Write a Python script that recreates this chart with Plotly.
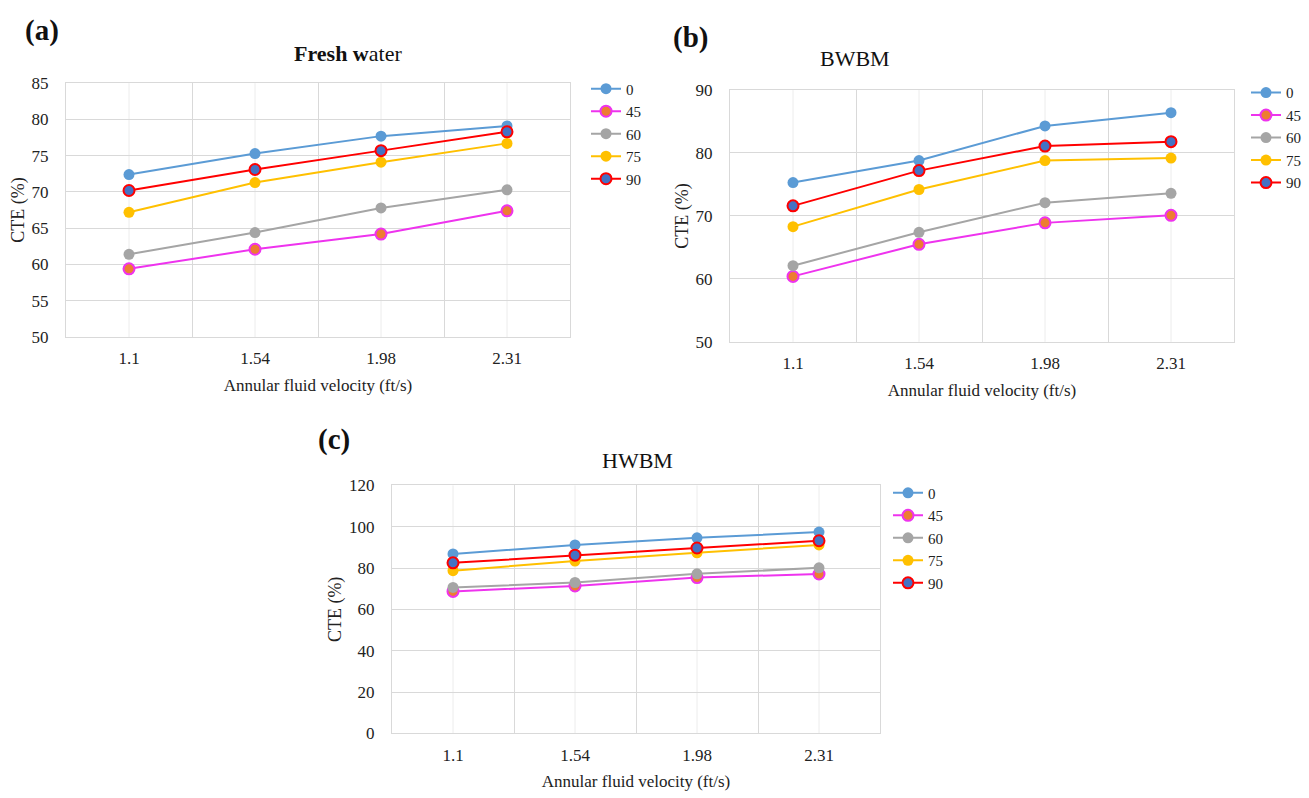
import plotly.graph_objects as go

categories = ["1.1", "1.54", "1.98", "2.31"]
series_names = ["0", "45", "60", "75", "90"]

fresh_water = {
    "0": [72.4, 75.3, 77.7, 79.1],
    "45": [59.4, 62.1, 64.2, 67.4],
    "60": [61.4, 64.4, 67.8, 70.3],
    "75": [67.2, 71.3, 74.1, 76.7],
    "90": [70.2, 73.1, 75.7, 78.3],
}
bwbm = {
    "0": [75.3, 78.8, 84.3, 86.4],
    "45": [60.4, 65.5, 68.9, 70.1],
    "60": [62.1, 67.4, 72.1, 73.6],
    "75": [68.3, 74.2, 78.8, 79.2],
    "90": [71.6, 77.2, 81.1, 81.8],
}
hwbm = {
    "0": [86.8, 91.2, 94.6, 97.4],
    "45": [68.7, 71.3, 75.4, 77.1],
    "60": [70.6, 73.0, 77.2, 80.1],
    "75": [78.7, 83.4, 87.4, 91.2],
    "90": [82.5, 86.2, 89.7, 93.2],
}

line_colors = {"0": "#5B9BD5", "45": "#EE33EE", "60": "#A5A5A5", "75": "#FFC000", "90": "#FF0000"}
fill_colors = {"0": "#5B9BD5", "45": "#ED7D31", "60": "#A5A5A5", "75": "#FFC000", "90": "#4472C4"}
outline = {"0": 0, "45": 2, "60": 0, "75": 0, "90": 2}

FONT = "Liberation Serif"
W, H = 1309, 798

panels = [
    (fresh_water, "", "legend", (66, 570), (76, 336), (50, 85), 5, "<b>Fresh w</b>ater", "(a)",
     (348, 46), (42, 22), (586, 65)),
    (bwbm, "2", "legend2", (730, 1234), (83, 341), (50, 90), 10, "BWBM", "(b)",
     (855, 51), (690, 29), (1246, 69)),
    (hwbm, "3", "legend3", (392, 880), (488, 742), (0, 120), 20, "HWBM", "(c)",
     (637, 462), (334, 441), (888, 479)),
]

fig = go.Figure()
layout = dict(width=W, height=H, margin=dict(l=0, r=0, t=0, b=0),
              paper_bgcolor="white", plot_bgcolor="white",
              font=dict(family=FONT, size=16, color="#222222"))
annotations = []
shapes = []

for (data, sfx, lg, xpx, ypx, yr, dt, title, label, tpos, lpos, legpos) in panels:
    xa = "x" + sfx
    ya = "y" + sfx
    for name in series_names:
        fig.add_trace(go.Scatter(
            x=categories, y=data[name], name=name, mode="lines+markers",
            xaxis=xa, yaxis=ya, legend=lg,
            line=dict(color=line_colors[name], width=2),
            marker=dict(size=11, color=fill_colors[name],
                        line=dict(color=line_colors[name], width=outline[name])),
        ))
    xd = [xpx[0] / W, xpx[1] / W]
    yd = [1 - ypx[1] / H, 1 - ypx[0] / H]
    layout["xaxis" + sfx] = dict(
        domain=xd, anchor=ya, type="category", range=[-0.5, len(categories) - 0.5],
        tickson="boundaries", showgrid=True, gridcolor="#d9d9d9", gridwidth=1,
        showline=True, linecolor="#d9d9d9", mirror=True, ticks="",
        tickfont=dict(size=17, family=FONT), ticklabelstandoff=6,
        title=dict(text="Annular fluid velocity (ft/s)", font=dict(size=17, family=FONT), standoff=11),
        fixedrange=True,
    )
    layout["yaxis" + sfx] = dict(
        domain=yd, anchor=xa, range=list(yr), dtick=dt, tick0=0,
        showgrid=True, gridcolor="#d9d9d9", gridwidth=1, zeroline=False,
        showline=True, linecolor="#d9d9d9", mirror=True, ticks="",
        tickfont=dict(size=17, family=FONT), ticklabelstandoff=13,
        title=dict(text="CTE (%)", font=dict(size=18, family=FONT), standoff=2),
        fixedrange=True,
    )
    layout[lg] = dict(x=legpos[0] / W, y=1 - legpos[1] / H, xanchor="left", yanchor="top",
                      font=dict(size=15, family=FONT), bgcolor="rgba(0,0,0,0)",
                      tracegroupgap=0, itemwidth=30)
    # lighter gridlines at category centres
    for i in range(len(categories)):
        shapes.append(dict(type="line", xref=xa, yref=ya + " domain", x0=i, x1=i, y0=0, y1=1,
                           line=dict(color="#ececec", width=1), layer="below"))
    annotations.append(dict(text=title, x=tpos[0] / W, y=1 - tpos[1] / H, xref="paper", yref="paper",
                            showarrow=False, font=dict(size=22, family=FONT, color="#111111"),
                            xanchor="center", yanchor="middle"))
    annotations.append(dict(text="<b>" + label + "</b>", x=lpos[0] / W, y=1 - lpos[1] / H,
                            xref="paper", yref="paper", showarrow=False,
                            font=dict(size=29, family=FONT, color="#111111"),
                            xanchor="center", yanchor="middle"))

layout["annotations"] = annotations
layout["shapes"] = shapes
fig.update_layout(**layout)
fig.write_html("out.html")
